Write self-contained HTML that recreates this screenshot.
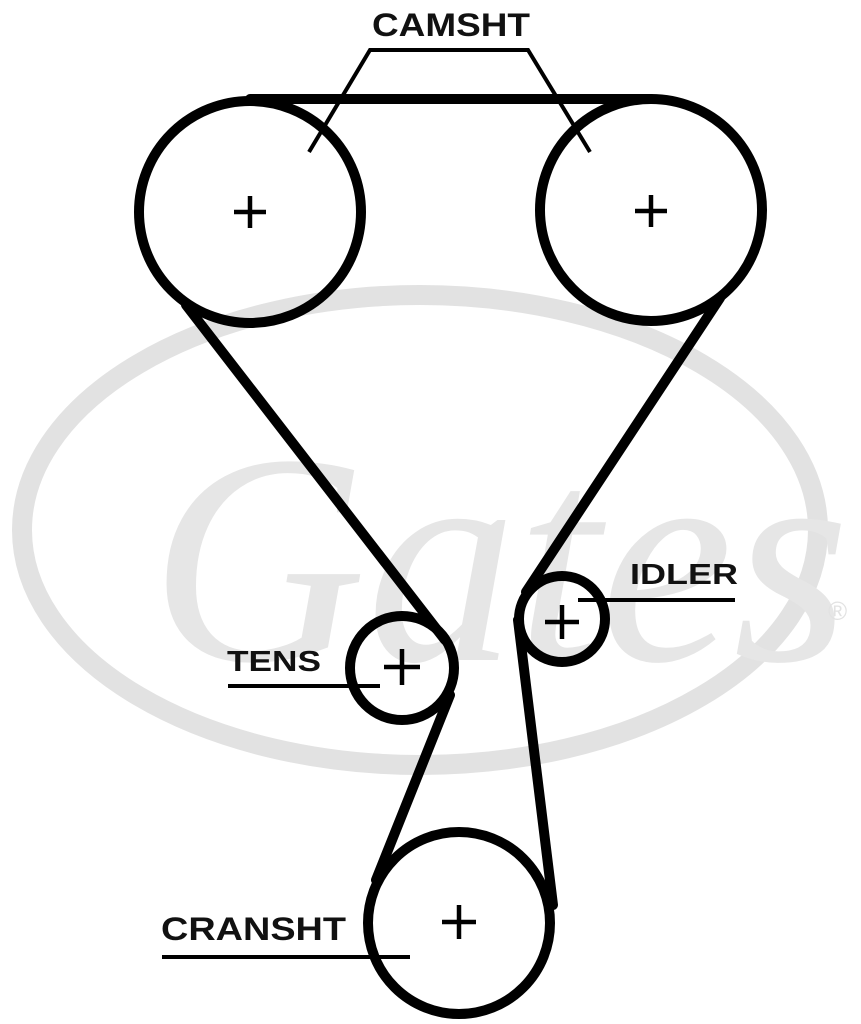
<!DOCTYPE html>
<html><head><meta charset="utf-8"><style>
html,body{margin:0;padding:0;background:#fff;}
svg{display:block;}
text{font-family:"Liberation Sans",Arial,sans-serif;font-weight:bold;}
</style></head><body>
<svg width="861" height="1024" viewBox="0 0 861 1024" xmlns="http://www.w3.org/2000/svg">
<g fill="none" stroke="#e2e2e2">
<ellipse cx="420" cy="530" rx="398" ry="235" stroke-width="20"/>
</g>
<text x="150" y="660" font-size="300" font-style="italic" fill="#e6e6e6" style="font-family:'Liberation Serif',serif;font-weight:normal">Gates</text>
<text x="828" y="620" font-size="26" fill="#e2e2e2" style="font-weight:normal">®</text>

<g fill="none" stroke="#000" stroke-width="10" stroke-linecap="round">
<circle cx="250" cy="212" r="111"/>
<circle cx="651" cy="210" r="111"/>
<circle cx="402" cy="668" r="52"/>
<circle cx="562" cy="619" r="43"/>
<circle cx="459" cy="923" r="91"/>
<line x1="250" y1="99" x2="651" y2="99"/>
<line x1="186" y1="305" x2="445" y2="640"/>
<line x1="450" y1="695" x2="376" y2="880"/>
<line x1="720" y1="298" x2="526" y2="592"/>
<line x1="518" y1="620" x2="553" y2="905"/>
</g>
<g stroke="#000" stroke-width="4.5">
<line x1="234" y1="212" x2="266" y2="212"/><line x1="250" y1="196" x2="250" y2="228"/>
<line x1="635" y1="211" x2="667" y2="211"/><line x1="651" y1="195" x2="651" y2="227"/>
<line x1="384" y1="667" x2="420" y2="667"/><line x1="402" y1="649" x2="402" y2="685"/>
<line x1="545" y1="622" x2="579" y2="622"/><line x1="562" y1="605" x2="562" y2="639"/>
<line x1="442" y1="922" x2="476" y2="922"/><line x1="459" y1="905" x2="459" y2="939"/>
</g>
<g stroke="#000" stroke-width="4" fill="none">
<polyline points="309,152 370,50 528,50 590,152"/>
<line x1="228" y1="686" x2="380" y2="686"/>
<line x1="578" y1="600" x2="735" y2="600"/>
<line x1="162" y1="957" x2="410" y2="957"/>
</g>
<g fill="#111">
<text x="372" y="36" font-size="32" textLength="158" lengthAdjust="spacingAndGlyphs">CAMSHT</text>
<text x="227" y="671" font-size="29" textLength="94" lengthAdjust="spacingAndGlyphs">TENS</text>
<text x="630" y="584" font-size="29" textLength="108" lengthAdjust="spacingAndGlyphs">IDLER</text>
<text x="161" y="940" font-size="32" textLength="185" lengthAdjust="spacingAndGlyphs">CRANSHT</text>
</g>
</svg>
</body></html>
